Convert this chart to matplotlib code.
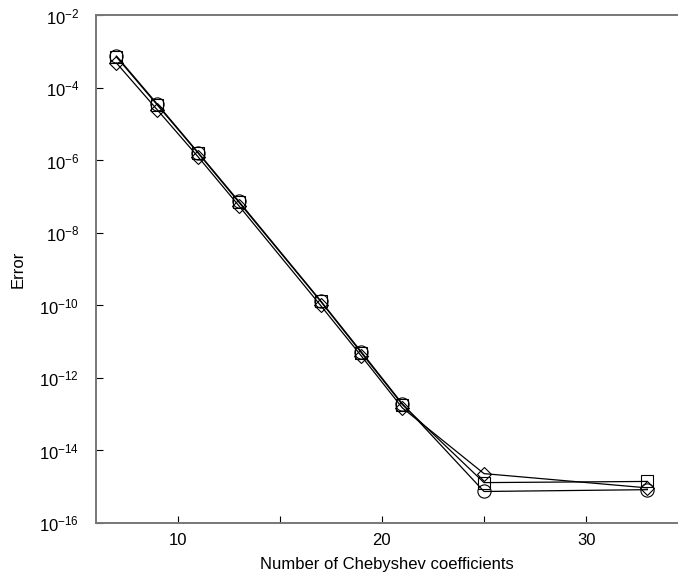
import matplotlib
matplotlib.use("Agg")
import matplotlib.pyplot as plt
import matplotlib.ticker as mticker

plt.rcParams["font.family"] = ["Liberation Sans", "DejaVu Sans"]

# ── Data ─────────────────────────────────────────────────────────────────────
n_coeffs = [7, 9, 11, 13, 17, 19, 21, 25, 33]
err_circle = [7.6e-4, 3.6e-5, 1.66e-6, 7.4e-8, 1.35e-10, 5.2e-12, 1.95e-13, 7.4e-16, 8.3e-16]
err_square = [7.2e-4, 3.4e-5, 1.6e-6, 7.0e-8, 1.3e-10, 4.9e-12, 1.85e-13, 1.3e-15, 1.4e-15]
err_diamond = [4.9e-4, 2.5e-5, 1.26e-6, 5.6e-8, 1.0e-10, 4.0e-12, 1.5e-13, 2.3e-15, 9.3e-16]

yticks = [1e-2, 1e-4, 1e-6, 1e-8, 1e-10, 1e-12, 1e-14, 1e-16]

# ── Plot ─────────────────────────────────────────────────────────────────────
fig = plt.figure(figsize=(6.78, 5.8), dpi=100)
ax = fig.add_axes([0.1416, 0.0983, 0.8584, 0.875])

style = dict(color="black", lw=0.9, mfc="none", mec="black", mew=0.8)
ax.plot(n_coeffs, err_diamond, marker="D", ms=7, **style)
ax.plot(n_coeffs, err_square, marker="s", ms=8, **style)
ax.plot(n_coeffs, err_circle, marker="o", ms=9.5, **style)

ax.set_yscale("log")
ax.set_ylim(1e-16, 1e-2)
ax.set_xlim(6, 34.5)
ax.set_yticks(yticks)
ax.yaxis.set_minor_locator(mticker.NullLocator())
ax.set_xticks([10, 20, 30])
ax.set_xticks([15, 25], minor=True)

ax.spines["right"].set_visible(False)
for side in ["left", "bottom", "top"]:
    ax.spines[side].set_color("#777777")
    ax.spines[side].set_linewidth(1.4)

ax.tick_params(which="both", direction="in", length=5, width=0.8,
               labelsize=12, color="black", top=False, right=False)
ax.tick_params(axis="y", pad=12)
ax.tick_params(axis="x", pad=7)

ax.set_xlabel("Number of Chebyshev coefficients", fontsize=12, labelpad=7)
ax.set_ylabel("Error", fontsize=12, labelpad=10)

fig.savefig("out.png", dpi=100)
